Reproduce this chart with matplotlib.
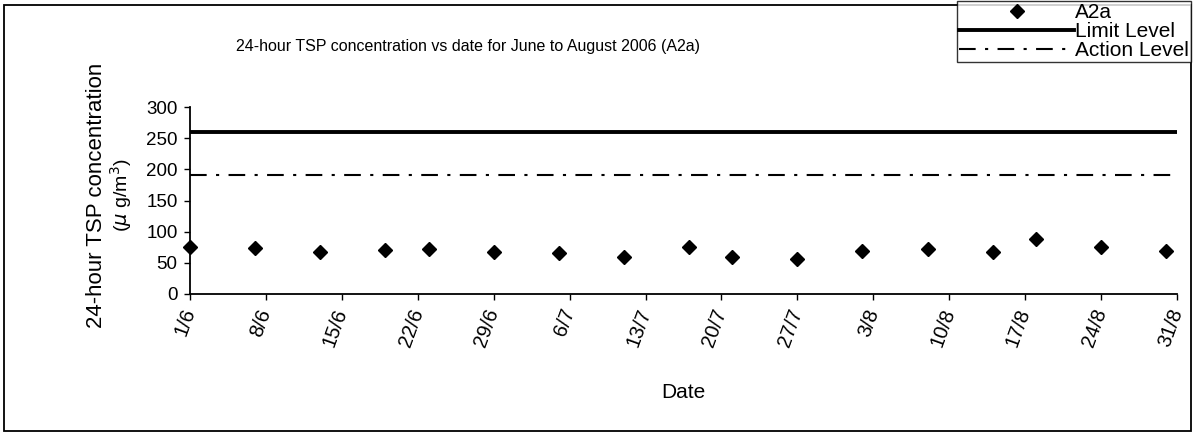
import matplotlib
matplotlib.use("Agg")
import matplotlib.pyplot as plt
from matplotlib.patches import Rectangle
import pandas as pd

# 数据
sample_dates = ["2006-06-01", "2006-06-07", "2006-06-13", "2006-06-19", "2006-06-23",
                "2006-06-29", "2006-07-05", "2006-07-11", "2006-07-17", "2006-07-21",
                "2006-07-27", "2006-08-02", "2006-08-08", "2006-08-14", "2006-08-18",
                "2006-08-24", "2006-08-30"]
tsp_a2a = [75, 73, 67, 70, 72, 68, 66, 60, 76, 59, 56, 69, 72, 68, 88, 76, 69]
limit_level = 260
action_level = 191
y_ticks = [0, 50, 100, 150, 200, 250, 300]

start = pd.Timestamp("2006-06-01")
end = pd.Timestamp("2006-08-31")
tick_dates = pd.date_range(start, end, freq="7D")
tick_labels = [f"{d.day}/{d.month}" for d in tick_dates]

plt.rcParams['font.family'] = ['Liberation Sans', 'DejaVu Sans']

W, H = 1196, 438
fig = plt.figure(figsize=(W / 100, H / 100), dpi=100)
ax = fig.add_axes([190 / W, 1 - 294 / H, (1177 - 190) / W, (294 - 107) / H])

dates = pd.to_datetime(sample_dates)
ax.plot(dates, tsp_a2a, linestyle="none", marker="D", markersize=7.5,
        color="black", label="A2a", clip_on=False, zorder=3)
ax.plot([start, end], [limit_level, limit_level], color="black", lw=2.8,
        label="Limit Level")
ax.plot([start, end], [action_level, action_level], color="black", lw=1.5,
        linestyle=(0, (8, 4.5, 1.5, 4.5)), label="Action Level")

ax.set_xlim(start, end)
ax.set_ylim(0, 300)
ax.set_yticks(y_ticks)
ax.set_xticks(tick_dates)
ax.set_xticklabels(tick_labels, rotation=70, ha="right", va="center",
                   rotation_mode="anchor")
ax.tick_params(axis="both", direction="out", length=4, width=1, color="black")
ax.tick_params(axis="x", labelsize=14.5, pad=7)
ax.tick_params(axis="y", labelsize=13.5, pad=5)
for s in ["top", "right"]:
    ax.spines[s].set_visible(False)
for s in ["left", "bottom"]:
    ax.spines[s].set_linewidth(1.3)

# 轴标题
fig.text(683 / W, 1 - 393 / H, "Date", ha="center", va="center", fontsize=15)
fig.text(468 / W, 1 - 47 / H,
         "24-hour TSP concentration vs date for June to August 2006 (A2a)",
         ha="center", va="center", fontsize=11.5)
fig.text(97 / W, 1 - 195 / H, "24-hour TSP concentration",
         rotation=90, ha="center", va="center", fontsize=16)
fig.text(121 / W, 1 - 195 / H, r"($\mu$ g/m$^3$)",
         rotation=90, ha="center", va="center", fontsize=14)

leg = fig.legend(loc="upper right", bbox_to_anchor=(1191 / W, 1 - 1 / H),
                 fontsize=15, frameon=True, fancybox=False,
                 handlelength=5.5, handletextpad=0.05, labelspacing=0.0,
                 borderpad=0.1, borderaxespad=0)
leg.get_frame().set_edgecolor("black")
leg.get_frame().set_linewidth(1)

# 外框
fig.patches.append(Rectangle((4 / W, 1 - 431 / H), 1187 / W, 426 / H,
                             transform=fig.transFigure, fill=False,
                             edgecolor="black", lw=1.3))

fig.savefig("out.png", dpi=100)
